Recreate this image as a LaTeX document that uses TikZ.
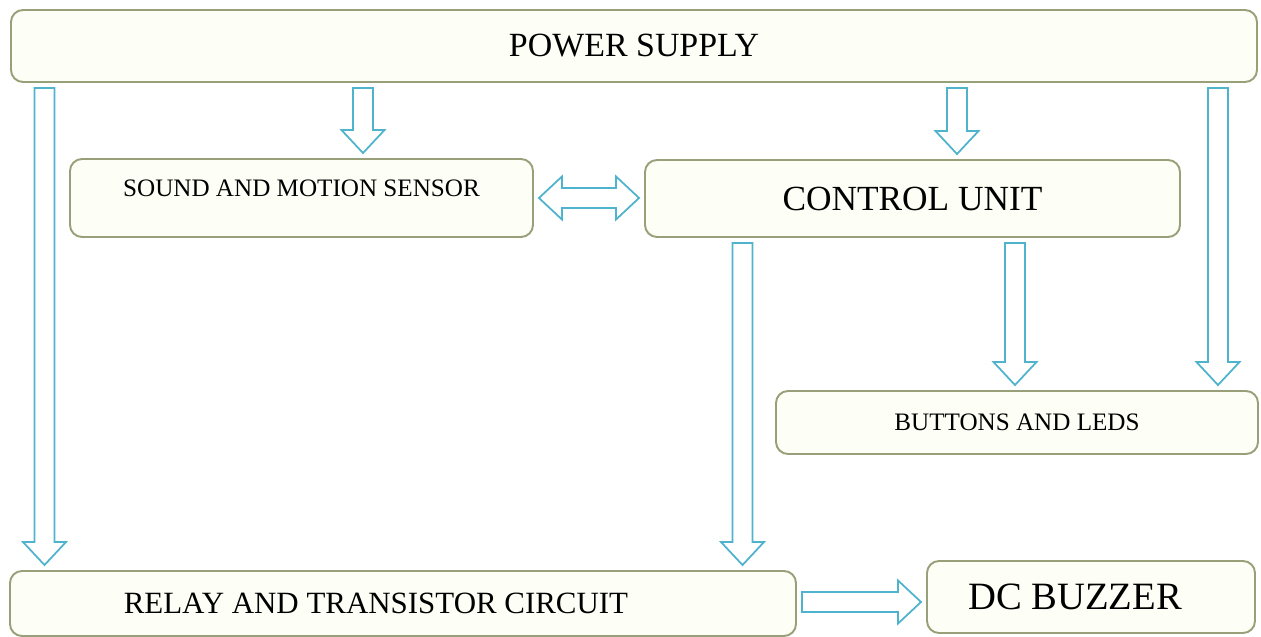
\documentclass[tikz,border=0pt]{standalone}
\usepackage{fontspec}
\setmainfont{Liberation Serif}
\usetikzlibrary{calc}
\definecolor{boxline}{HTML}{98A07A}
\definecolor{boxfill}{HTML}{FDFEF5}
\definecolor{flowline}{HTML}{4FB3CD}
\newcommand{\shaftw}{0.2cm}
\newcommand{\headw}{0.43cm}
\newcommand{\headl}{0.46cm}
\newcommand{\flowgap}{0.1cm}

% hollow block arrow, straight down at x=#1, from node #2 to node #3
\newcommand{\flowdown}[3]{%
  \draw[flow] let \p1=(#1,0 |- #2.south), \p2=(#1,0 |- #3.north) in
    (\x1-\shaftw,\y1-\flowgap) -- (\x1+\shaftw,\y1-\flowgap)
    -- (\x1+\shaftw,\y2+\flowgap+\headl) -- (\x1+\headw,\y2+\flowgap+\headl)
    -- (\x1,\y2+\flowgap) -- (\x1-\headw,\y2+\flowgap+\headl)
    -- (\x1-\shaftw,\y2+\flowgap+\headl) -- cycle;}

% hollow block arrow to the right at y=#1, from node #2 to node #3
\newcommand{\flowright}[3]{%
  \draw[flow] let \p1=(#2.east |- 0,#1), \p2=(#3.west |- 0,#1) in
    (\x1+\flowgap,\y1+\shaftw) -- (\x2-\flowgap-\headl,\y1+\shaftw)
    -- (\x2-\flowgap-\headl,\y1+\headw) -- (\x2-\flowgap,\y1)
    -- (\x2-\flowgap-\headl,\y1-\headw) -- (\x2-\flowgap-\headl,\y1-\shaftw)
    -- (\x1+\flowgap,\y1-\shaftw) -- cycle;}

% hollow block arrow with two heads between node #1 and node #2
\newcommand{\flowboth}[2]{%
  \draw[flow] let \p1=(#1.east), \p2=(#2.west) in
    (\x1+\flowgap,\y1) -- (\x1+\flowgap+\headl,\y1+\headw)
    -- (\x1+\flowgap+\headl,\y1+\shaftw) -- (\x2-\flowgap-\headl,\y1+\shaftw)
    -- (\x2-\flowgap-\headl,\y1+\headw) -- (\x2-\flowgap,\y1)
    -- (\x2-\flowgap-\headl,\y1-\headw) -- (\x2-\flowgap-\headl,\y1-\shaftw)
    -- (\x1+\flowgap+\headl,\y1-\shaftw) -- (\x1+\flowgap+\headl,\y1-\headw) -- cycle;}

\begin{document}
\begin{tikzpicture}[box/.style={draw=boxline, fill=boxfill, line width=1.1pt, rounded corners=0.24cm, inner sep=0pt},
    flow/.style={draw=flowline, fill=white, line width=1pt, line join=miter}]
    \useasboundingbox (0,0) rectangle (25.22,-12.74);

    \node[box, minimum width=24.92cm, minimum height=1.44cm, font=\fontsize{19.3}{21}\selectfont] (power) at (12.68,-0.92) {POWER SUPPLY};
    \node[box, minimum width=9.26cm, minimum height=1.56cm, text depth=0.38cm, font=\fontsize{14.3}{16}\selectfont] (sensor) at (6.03,-3.96) {SOUND AND MOTION SENSOR};
    \node[box, minimum width=10.7cm, minimum height=1.54cm, font=\fontsize{20.1}{22}\selectfont] (control) at (18.25,-3.97) {CONTROL UNIT};
    \node[box, minimum width=9.64cm, minimum height=1.26cm, font=\fontsize{14.3}{16}\selectfont] (buttons) at (20.34,-8.45) {BUTTONS AND LEDS};
    \node[box, minimum width=15.72cm, minimum height=1.30cm, font=\fontsize{17.6}{19}\selectfont] (relay) at (8.06,-12.07) {RELAY AND TRANSISTOR CIRCUIT\kern1.08cm};
    \node[box, minimum width=6.56cm, minimum height=1.44cm, font=\fontsize{22}{24}\selectfont] (buzzer) at (21.82,-11.94) {DC BUZZER\kern0.64cm};

    \flowdown{0.89}{power}{relay}
    \flowdown{7.26}{power}{sensor}
    \flowdown{19.14}{power}{control}
    \flowdown{24.36}{power}{buttons}
    \flowdown{14.85}{control}{relay}
    \flowdown{20.30}{control}{buttons}
    \flowboth{sensor}{control}
    \flowright{-12.04}{relay}{buzzer}
\end{tikzpicture}
\end{document}
